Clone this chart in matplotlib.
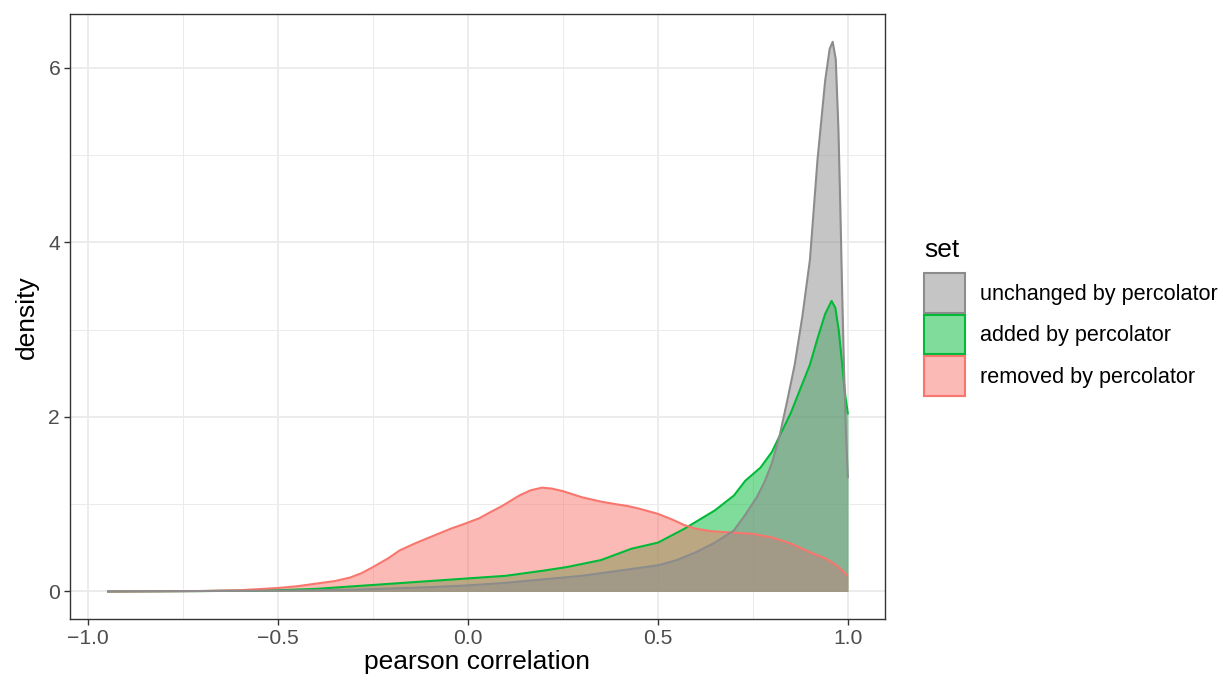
import matplotlib.pyplot as plt
from matplotlib.patches import Patch
from matplotlib.ticker import MultipleLocator

plt.rcParams['font.family'] = ['Liberation Sans', 'DejaVu Sans']

# density curves
unchanged_x = [-0.95, -0.7, -0.5, -0.3, -0.1, 0.0, 0.1, 0.2, 0.3, 0.4, 0.5, 0.55, 0.6,
               0.65, 0.7, 0.73, 0.76, 0.78, 0.8, 0.82, 0.84, 0.86, 0.88, 0.9, 0.92, 0.94,
               0.952, 0.96, 0.968, 0.975, 0.98, 0.985, 0.99, 0.995, 1.0]
unchanged_y = [0.0, 0.005, 0.01, 0.02, 0.05, 0.07, 0.1, 0.14, 0.18, 0.24, 0.30, 0.36, 0.45,
               0.56, 0.7, 0.88, 1.08, 1.25, 1.47, 1.78, 2.18, 2.6, 3.15, 3.8, 4.95, 5.85,
               6.22, 6.3, 6.1, 5.3, 4.4, 3.4, 2.5, 1.8, 1.3]

added_x = [-0.95, -0.7, -0.5, -0.4, -0.3, -0.2, -0.1, 0.0, 0.1, 0.2, 0.26, 0.35, 0.43,
           0.5, 0.57, 0.65, 0.7, 0.73, 0.77, 0.8, 0.82, 0.85, 0.87, 0.9, 0.92, 0.94,
           0.957, 0.967, 0.976, 0.985, 0.993, 1.0]
added_y = [0.0, 0.005, 0.015, 0.03, 0.06, 0.09, 0.12, 0.15, 0.18, 0.24, 0.28, 0.36, 0.49,
           0.56, 0.72, 0.93, 1.1, 1.27, 1.42, 1.6, 1.78, 2.05, 2.27, 2.6, 2.9, 3.18,
           3.33, 3.25, 2.99, 2.6, 2.25, 2.03]

removed_x = [-0.95, -0.8, -0.7, -0.6, -0.5, -0.45, -0.4, -0.35, -0.31, -0.28, -0.25,
             -0.21, -0.18, -0.14, -0.09, -0.045, 0.0, 0.03, 0.055, 0.09, 0.135, 0.165,
             0.195, 0.22, 0.25, 0.3, 0.35, 0.39, 0.42, 0.45, 0.5, 0.54, 0.57, 0.6,
             0.64, 0.68, 0.72, 0.75, 0.8, 0.85, 0.9, 0.94, 0.97, 1.0]
removed_y = [0.0, 0.003, 0.006, 0.015, 0.04, 0.06, 0.09, 0.12, 0.16, 0.21, 0.28,
             0.38, 0.47, 0.55, 0.64, 0.72, 0.79, 0.84, 0.9, 0.98, 1.1, 1.16,
             1.19, 1.18, 1.15, 1.08, 1.03, 1.0, 0.98, 0.95, 0.89, 0.82, 0.76, 0.72,
             0.69, 0.68, 0.67, 0.66, 0.62, 0.55, 0.45, 0.38, 0.3, 0.18]

labels = ["unchanged by percolator", "added by percolator", "removed by percolator"]
line_cols = ["#8c8c8c", "#00BA38", "#F8766D"]
key_fills = ["#c5c5c5", "#80dc9b", "#fbbab6"]

fig = plt.figure(figsize=(12.23, 6.82), dpi=100)
ax = fig.add_axes([0.0572, 0.0924, 0.6664, 0.8866])

# groups drawn in alphabetical order like ggplot: added, removed, unchanged
series = [(unchanged_x, unchanged_y), (added_x, added_y), (removed_x, removed_y)]
for i in [1, 2, 0]:
    xs, ys = series[i]
    ax.fill_between(xs, ys, 0, color=line_cols[i], alpha=0.5, linewidth=0)
    ax.plot(xs, ys, color=line_cols[i], linewidth=1.5, solid_capstyle='butt')

ax.set_xlim(-1.0475, 1.0975)
ax.set_ylim(-0.315, 6.615)
ax.xaxis.set_minor_locator(MultipleLocator(0.25))
ax.yaxis.set_minor_locator(MultipleLocator(1))
ax.set_xticks([-1.0, -0.5, 0.0, 0.5, 1.0])
ax.set_xticklabels(["\u22121.0", "\u22120.5", "0.0", "0.5", "1.0"])
ax.set_yticks([0, 2, 4, 6])

ax.grid(which='major', color='#ebebeb', linewidth=1.3)
ax.grid(which='minor', color='#ebebeb', linewidth=0.7)
ax.set_axisbelow(True)
for s in ax.spines.values():
    s.set_color('#333333')
    s.set_linewidth(1.0)
ax.tick_params(which='major', length=4, width=1, color='#333333',
               labelsize=15.2, labelcolor='#4d4d4d', pad=3)
ax.tick_params(which='minor', length=0)

ax.set_xlabel("pearson correlation", fontsize=19, labelpad=2)
ax.set_ylabel("density", fontsize=19, labelpad=7)

# legend
fig.text(0.7555, 0.623, "set", fontsize=19, va='baseline', ha='left')
handles = [Patch(facecolor=fc, edgecolor=lc, linewidth=1.5)
           for fc, lc in zip(key_fills, line_cols)]
fig.legend(handles, labels, loc='upper left', bbox_to_anchor=(0.7555, 0.5997),
           frameon=False, fontsize=15.6,
           handlelength=1.9, handleheight=2.45, labelspacing=0.08,
           handletextpad=0.68, borderaxespad=0, borderpad=0)

fig.savefig("out.png", dpi=100)
